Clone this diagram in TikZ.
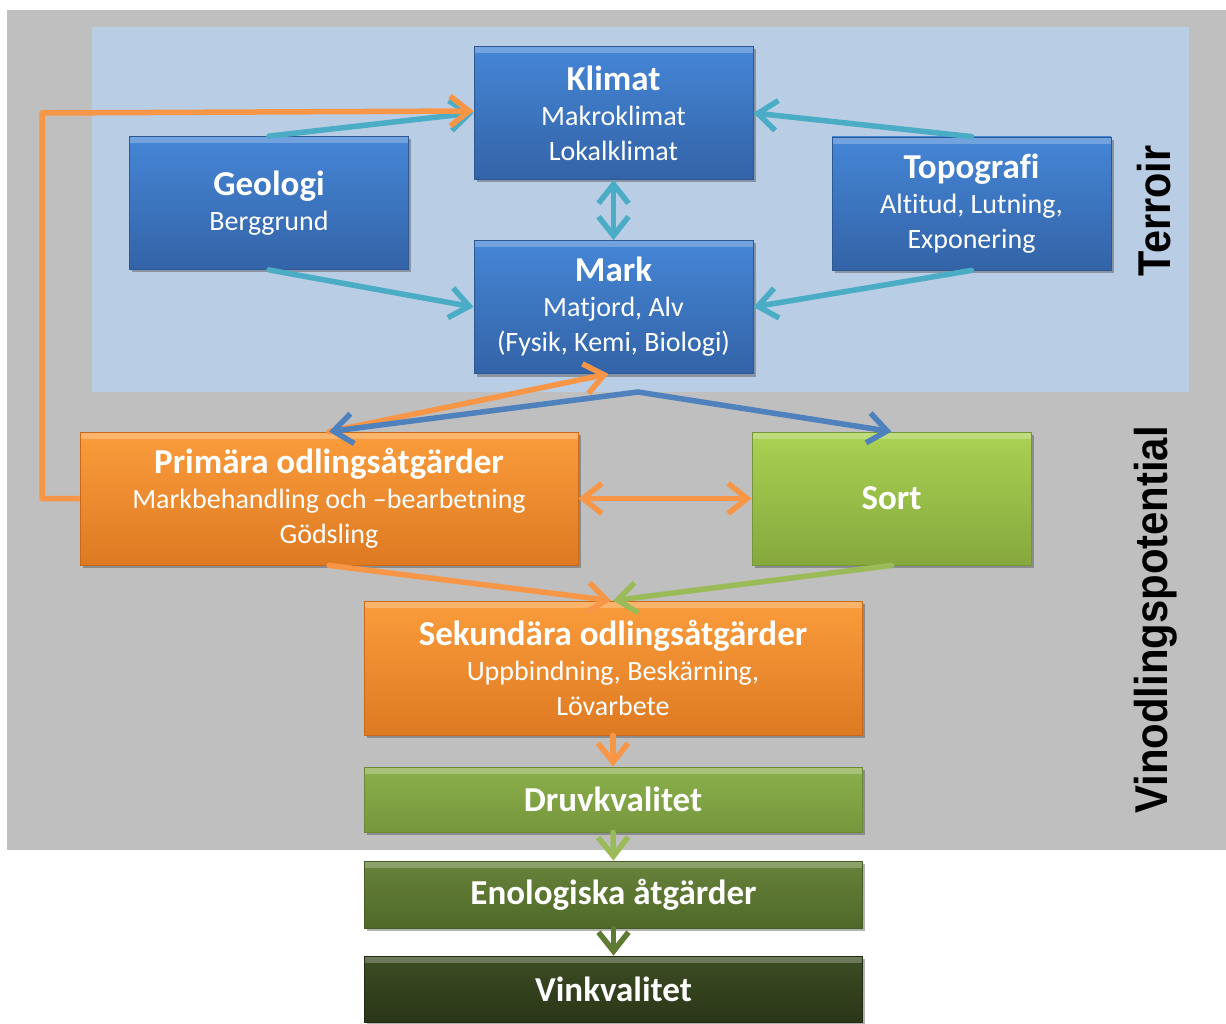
\documentclass[tikz,border=0pt]{standalone}
\usepackage{fontspec}
\usepackage{graphicx}
\setmainfont[Ligatures=NoCommon]{Carlito}
\newfontfamily\sidefont{Liberation Sans}
\usetikzlibrary{arrows.meta,shadows}
\definecolor{cGray}{HTML}{BFBFBF}
\definecolor{cPanel}{HTML}{B9CDE5}
\definecolor{cB1}{HTML}{4586D6}
\definecolor{cB2}{HTML}{3363A7}
\definecolor{cB3}{HTML}{2D5890}
\definecolor{cO1}{HTML}{FA9C3C}
\definecolor{cO2}{HTML}{DE7A22}
\definecolor{cO3}{HTML}{C86A1A}
\definecolor{cS1}{HTML}{AAD253}
\definecolor{cS2}{HTML}{86A83D}
\definecolor{cS3}{HTML}{76963A}
\definecolor{cD1}{HTML}{8BAF4C}
\definecolor{cD2}{HTML}{76973C}
\definecolor{cD3}{HTML}{6A8836}
\definecolor{cE1}{HTML}{68833B}
\definecolor{cE2}{HTML}{4F6828}
\definecolor{cE3}{HTML}{465C24}
\definecolor{cV1}{HTML}{3C4D23}
\definecolor{cV2}{HTML}{2A3618}
\definecolor{cV3}{HTML}{222C14}
\definecolor{cTeal}{HTML}{4BACC6}
\definecolor{cOr}{HTML}{F79646}
\definecolor{cBl}{HTML}{4F81BD}
\definecolor{cGr}{HTML}{9BBB59}
\definecolor{cDg}{HTML}{5F7A32}
\newcommand\subf{\fontsize{28}{35}\selectfont}
\newcommand\ttl[1]{{\fontsize{35}{37}\selectfont\bfseries #1}}
\begin{document}
\begin{tikzpicture}[x=1pt,y=-1pt,
  box/.style={rectangle, inner sep=0pt, align=center, text=white, font=\subf, line width=0.8pt,
    drop shadow={shadow xshift=2.5pt, shadow yshift=-3pt, opacity=0.4, fill=black!75},
    path picture={\fill[white,opacity=0.25] (path picture bounding box.north west) rectangle ([yshift=-7pt]path picture bounding box.north east);}},
  bigbox/.style={box, minimum width=279pt, minimum height=133pt},
  widebox/.style={box, minimum width=498pt},
  bluebox/.style={top color=cB1, bottom color=cB2, draw=cB3},
  orbox/.style={top color=cO1, bottom color=cO2, draw=cO3},
  sortbox/.style={top color=cS1, bottom color=cS2, draw=cS3},
  druvbox/.style={top color=cD1, bottom color=cD2, draw=cD3},
  enobox/.style={top color=cE1, bottom color=cE2, draw=cE3},
  vinbox/.style={top color=cV1, bottom color=cV2, draw=cV3},
  conn/.style={line width=5.5pt, line cap=round, line join=round, -{Straight Barb[length=19pt,width=30pt]}},
  dconn/.style={line width=5.5pt, line cap=round, line join=round, {Straight Barb[length=19pt,width=30pt]}-{Straight Barb[length=19pt,width=30pt]}},
  sidelabel/.style={rotate=90, inner sep=0pt, font=\sidefont\bfseries\fontsize{46}{46}\selectfont}
]
\useasboundingbox (0,0) rectangle (1226,1024);
\fill[white] (0,0) rectangle (1226,1024);
\fill[cGray] (7,10) rectangle (1226,850);
\fill[cPanel] (92,27) rectangle (1189,392);

\node[bigbox,bluebox] (klim) at (613.5,113) {\ttl{Klimat}\\Makroklimat\\Lokalklimat};
\node[bigbox,bluebox] (geo) at (269,203) {\ttl{Geologi}\\Berggrund};
\node[bigbox,bluebox] (topo) at (971.5,203.5) {\ttl{Topografi}\\Altitud, Lutning,\\Exponering};
\node[bigbox,bluebox] (mark) at (613.5,307) {\ttl{Mark}\\Matjord, Alv\\(Fysik, Kemi, Biologi)};
\node[widebox,orbox,minimum height=133pt] (prim) at (329,498.5) {\ttl{Primära odlingsåtgärder}\\Markbehandling och –bearbetning\\Gödsling};
\node[bigbox,sortbox] (sort) at (891.5,498.5) {\ttl{Sort}};
\node[widebox,orbox,minimum height=134pt] (sek) at (613,668) {\ttl{Sekundära odlingsåtgärder}\\Uppbindning, Beskärning,\\Lövarbete};
\node[widebox,druvbox,minimum height=65pt] (druv) at (613,799.5) {\ttl{Druvkvalitet}};
\node[widebox,enobox,minimum height=67pt] (eno) at (613.5,894.5) {\ttl{Enologiska åtgärder}};
\node[widebox,vinbox,minimum height=66pt] (vin) at (613.5,989) {\ttl{Vinkvalitet}};

\node[sidelabel] (terroir) at (1154,211) {\scalebox{0.9}[1]{Terroir}};
\node[sidelabel] (vino) at (1156,620) {\scalebox{0.91}[1]{Vinodlingspotential}};

% terroir connectors
\draw[conn,cTeal] (geo.north) -- (klim.west);
\draw[conn,cTeal] (geo.south) -- (mark.west);
\draw[conn,cTeal] (topo.north) -- (klim.east);
\draw[conn,cTeal] (topo.south) -- (mark.east);
\draw[dconn,cTeal] (klim.south) -- (mark.north);

% orange feedback loop
\coordinate (loopc) at (42,0);
\draw[conn,cOr,line cap=butt] (prim.west) -| (loopc |- klim.west) -- ([yshift=2pt]klim.west);
\draw[conn,cOr] (prim.north) -- ([xshift=-5pt]mark.south);

% blue split
\coordinate (split) at (638,392);
\draw[dconn,cBl] (prim.north) -- (split) -- (sort.north);

\draw[dconn,cOr] (prim.east) -- (sort.west);
\draw[conn,cOr] (prim.south) -- ([xshift=-2pt]sek.north);
\draw[conn,cGr] (sort.south) -- (sek.north);
\draw[conn,cOr] (sek.south) -- (druv.north);
\draw[conn,cGr] (druv.south) -- (eno.north);
\draw[conn,cDg] (eno.south) -- (vin.north);
\end{tikzpicture}
\end{document}
